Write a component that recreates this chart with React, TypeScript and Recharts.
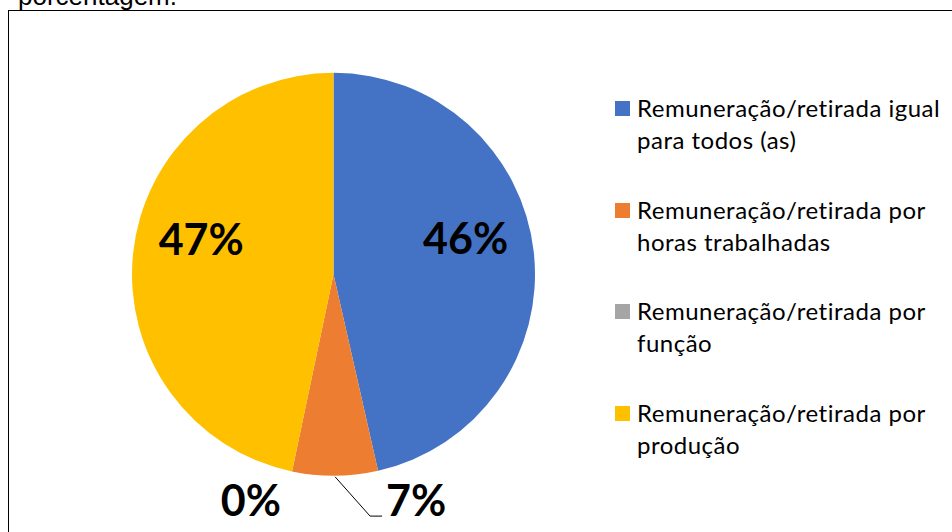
import React from 'react';
import { PieChart, Pie, Cell, Legend } from 'recharts';

// categorias e valores (percentuais)
const categories = [
  'Remuneração/retirada igual para todos (as)',
  'Remuneração/retirada por horas trabalhadas',
  'Remuneração/retirada por função',
  'Remuneração/retirada por produção',
];
const shares = [46.45, 6.85, 0, 46.7];
const colors = ['#4472C4', '#ED7D31', '#A5A5A5', '#FFC000'];

const data = categories.map((name, i) => ({ name, value: shares[i] }));

const RAD = Math.PI / 180;
const labelFont = { fontFamily: 'Lato, "Noto Sans", sans-serif', fontWeight: 700, fontSize: 43 };

function renderLabel(props: any) {
  const { cx, cy, midAngle, outerRadius, percent, index } = props;
  const text = `${Math.round(percent * 100)}%`;
  const cos = Math.cos(-midAngle * RAD);
  const sin = Math.sin(-midAngle * RAD);

  if (percent >= 0.1) {
    // rótulos grandes dentro da fatia, um pouco acima do ângulo médio
    const r = outerRadius * 0.66;
    const x = cx + r * cos;
    const y = cy + r * sin - outerRadius * 0.11;
    return (
      <text key={`l-${index}`} x={x} y={y} textAnchor="middle" dominantBaseline="central" fill="#000" style={labelFont}>
        {text}
      </text>
    );
  }

  // fatias pequenas: rótulo fora, abaixo do gráfico
  const ex = cx + outerRadius * cos;
  const ey = cy + outerRadius * sin;
  const base = cy + outerRadius * 1.2;
  const right = cos >= 0;

  if (right) {
    return (
      <g key={`l-${index}`}>
        {percent > 0 && (
          <polyline
            points={`${ex},${ey + 1} ${ex + 35},${base} ${ex + 47},${base}`}
            fill="none"
            stroke="#000"
            strokeWidth={1}
          />
        )}
        <text x={ex + 51} y={base} textAnchor="start" fill="#000" style={labelFont}>
          {text}
        </text>
      </g>
    );
  }
  return (
    <text key={`l-${index}`} x={ex - 11} y={base} textAnchor="end" fill="#000" style={labelFont}>
      {text}
    </text>
  );
}

function renderLegend({ payload }: any) {
  // manter a ordem original das categorias
  const items = [...(payload || [])].sort(
    (a: any, b: any) => categories.indexOf(a.value) - categories.indexOf(b.value)
  );
  return (
    <div
      style={{
        width: 335,
        fontFamily: 'Lato, "Noto Sans", sans-serif',
        fontSize: 24,
        letterSpacing: 0.5,
        lineHeight: '32px',
        color: '#000',
      }}
    >
      {items.map((entry: any, i: number) => (
        <div
          key={`leg-${i}`}
          style={{ position: 'relative', paddingLeft: 22, marginBottom: i < items.length - 1 ? 37.5 : 0 }}
        >
          <span
            style={{
              position: 'absolute',
              left: 0,
              top: 9,
              width: 15,
              height: 15,
              background: entry.color,
            }}
          />
          {entry.value}
        </div>
      ))}
    </div>
  );
}

export default function App() {
  return (
    <div
      style={{
        position: 'absolute',
        left: 0,
        top: 0,
        width: 952,
        height: 532,
        overflow: 'hidden',
        background: '#fff',
      }}
    >
      <div
        style={{
          position: 'absolute',
          left: 18,
          top: -17.5,
          fontFamily: '"Liberation Sans", Arial, sans-serif',
          fontSize: 26,
          lineHeight: '26px',
          whiteSpace: 'nowrap',
          color: '#000',
        }}
      >
        porcentagem.
      </div>
      <div
        style={{
          position: 'absolute',
          left: 8,
          top: 10,
          width: 970,
          height: 540,
          borderTop: '1.5px solid #000',
          borderLeft: '1.5px solid #000',
        }}
      />
      <div style={{ position: 'absolute', left: 0, top: 0 }}>
        <PieChart width={952} height={532} margin={{ top: 0, right: 0, bottom: 0, left: 0 }}>
          <Legend
            layout="vertical"
            align="right"
            verticalAlign="top"
            content={renderLegend}
            wrapperStyle={{ left: 615, top: 92, right: 'auto', width: 335 }}
          />
          <Pie
            isAnimationActive={false}
            data={data}
            dataKey="value"
            nameKey="name"
            cx={333.5}
            cy={274.3}
            outerRadius={201.5}
            startAngle={90}
            endAngle={-270}
            stroke="none"
            label={renderLabel}
            labelLine={false}
          >
            {data.map((entry, index) => (
              <Cell key={`cell-${index}`} fill={colors[index]} />
            ))}
          </Pie>
        </PieChart>
      </div>
    </div>
  );
}
